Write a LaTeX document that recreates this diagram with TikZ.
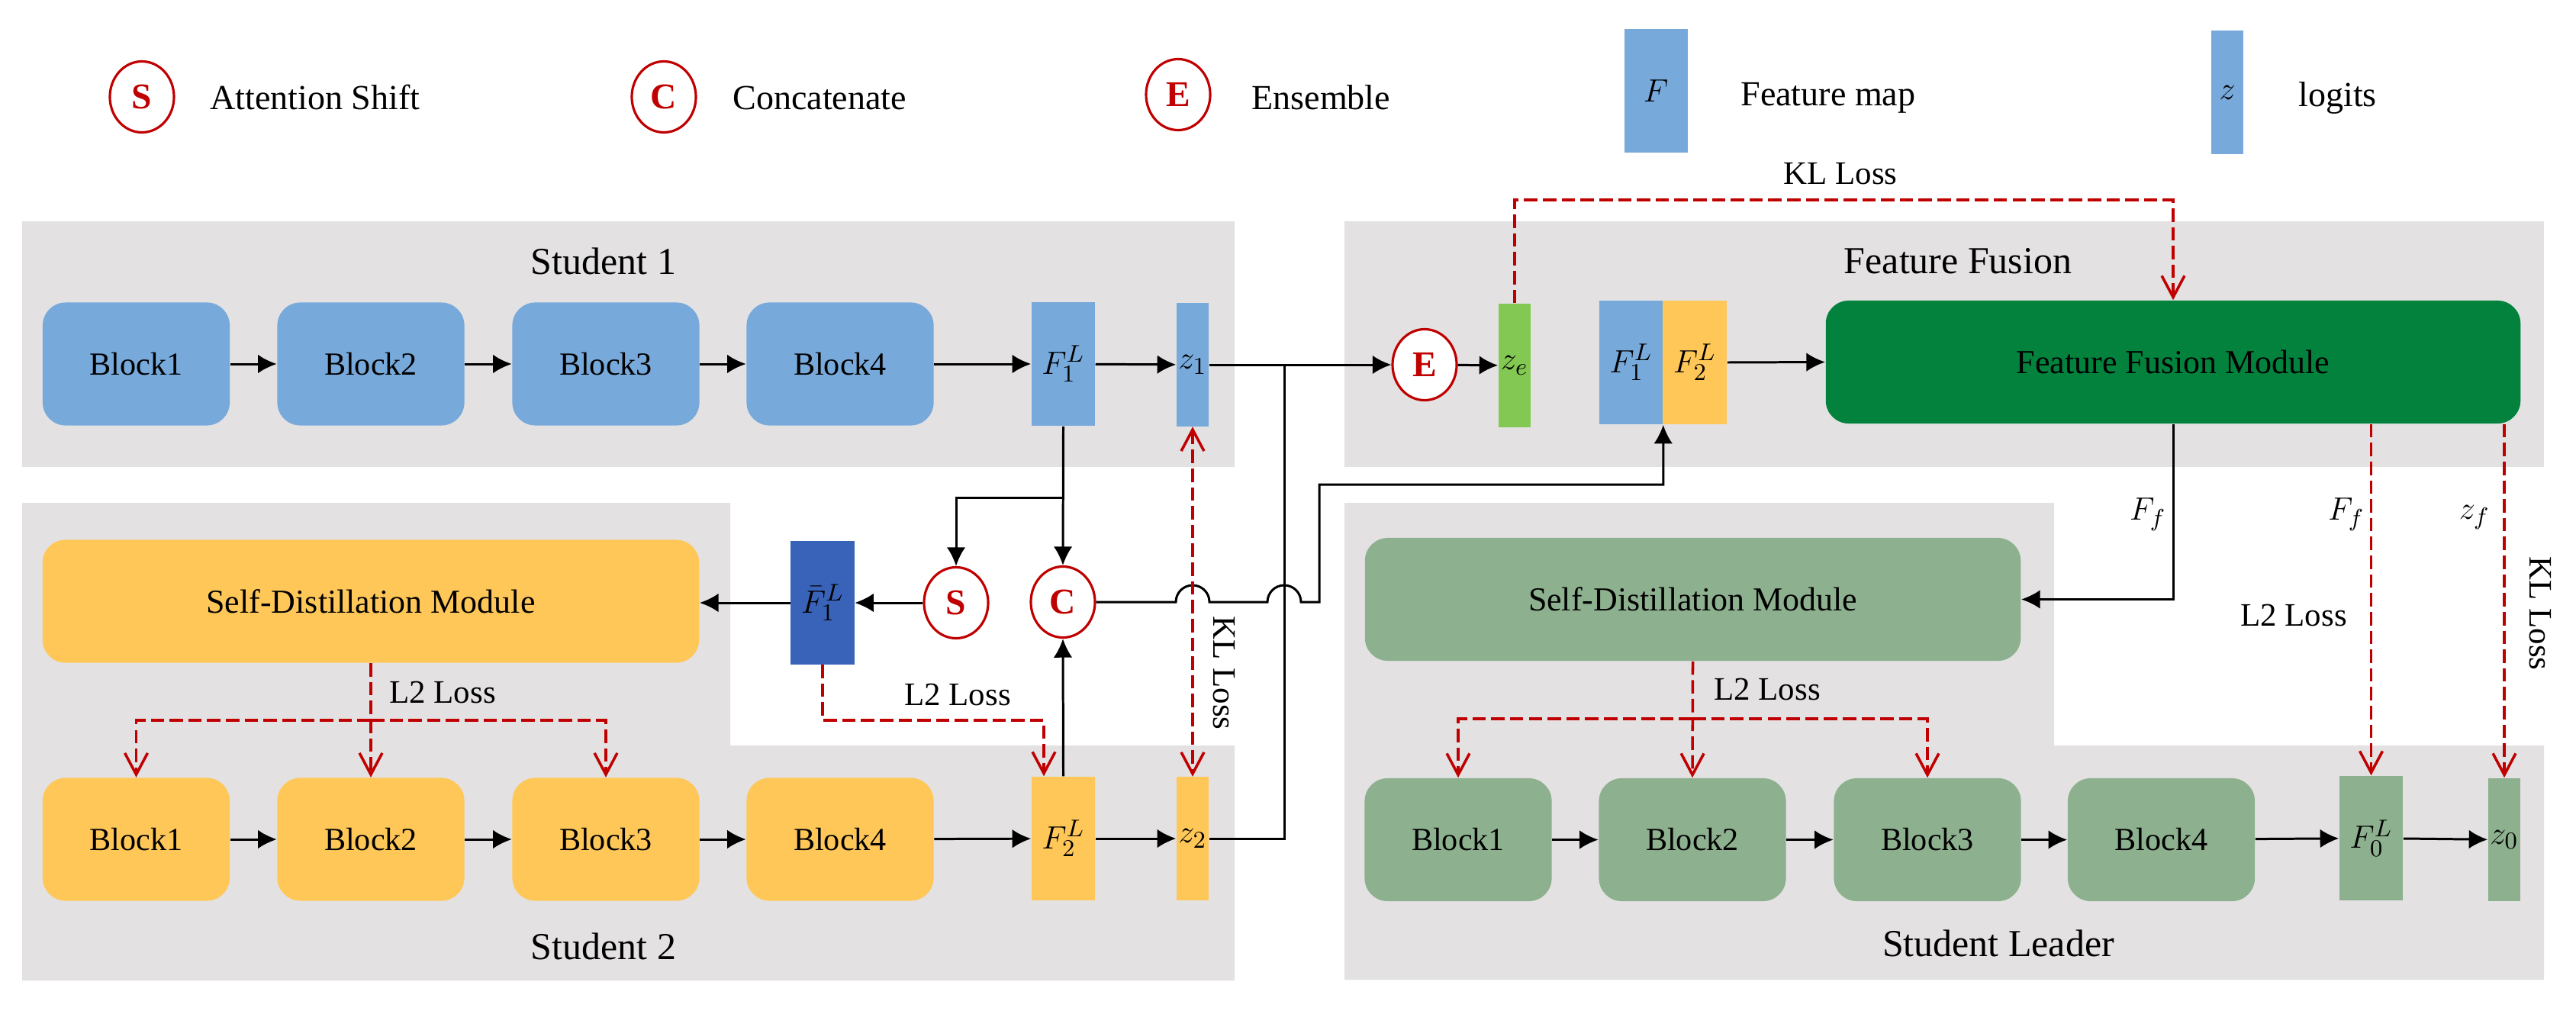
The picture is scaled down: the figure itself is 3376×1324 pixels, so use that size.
\documentclass[tikz,border=0pt]{standalone}
\usepackage{fontspec}
\setmainfont{Liberation Serif}
\usetikzlibrary{arrows.meta,shapes.geometric,calc}
\definecolor{panelgray}{RGB}{227,225,226}
\definecolor{blueA}{RGB}{119,169,219}
\definecolor{yelA}{RGB}{255,199,88}
\definecolor{grnA}{RGB}{141,176,143}
\definecolor{ffmgreen}{RGB}{2,130,61}
\definecolor{zegreen}{RGB}{131,200,83}
\definecolor{dblue}{RGB}{57,99,184}
\definecolor{redc}{RGB}{192,0,0}
\newcommand\fsz[1]{\fontsize{#1}{#1}\selectfont}
\begin{document}
\begin{tikzpicture}[x=0.01cm,y=-0.01cm,
  blk/.style={rounded corners=0.3cm,minimum width=2.45cm,minimum height=1.61cm,inner sep=0pt,font=\fsz{12}},
  modbox/.style={rounded corners=0.3cm,minimum height=1.61cm,inner sep=0pt,font=\fsz{12.5}},
  fmap/.style={minimum width=0.83cm,minimum height=1.62cm,inner sep=0pt,font=\fsz{12.5}},
  lgt/.style={minimum width=0.42cm,minimum height=1.61cm,inner sep=0pt,font=\fsz{12.5}},
  opc/.style={ellipse,draw=redc,line width=0.9pt,fill=white,minimum width=0.84cm,minimum height=0.93cm,inner sep=0pt,text=redc,font=\fsz{13.5}\bfseries},
  ttl/.style={font=\fsz{14.2}},
  txt/.style={font=\fsz{12.2}},
  lgtxt/.style={font=\fsz{13.1},anchor=west},
  ln/.style={line width=0.85pt},
  arr/.style={line width=0.85pt,-{Latex[length=7pt,width=7pt]}},
  dsh/.style={draw=redc,line width=1pt,dash pattern=on 5pt off 2pt},
  dar/.style={dsh,-{Straight Barb[length=8pt,width=8.5pt]}},
  dar2/.style={dsh,{Straight Barb[length=8pt,width=8.5pt]}-{Straight Barb[length=8pt,width=8.5pt]}}
]
\fill[white] (0,0) rectangle (3376,1324);
\useasboundingbox (0,0) rectangle (3376,1324);

% ---------- legend ----------
\node[opc] (lgS) at (186,127) {S};
\node[lgtxt] (lgSt) at (263,128) {Attention Shift};
\node[opc] (lgC) at (870,127) {C};
\node[lgtxt] (lgCt) at (948,128) {Concatenate};
\node[opc] (lgE) at (1544,124) {E};
\node[lgtxt] (lgEt) at (1628,128) {Ensemble};
\node[fmap,fill=blueA] (lgF) at (2170,119) {$F$};
\node[lgtxt] (lgFt) at (2269,128) {Feature map};
\node[lgt,fill=blueA] (lgZ) at (2919,121) {$z$};
\node[lgtxt] (lgZt) at (3000,128) {logits};

% ---------- panels ----------
\fill[panelgray] (29,290) rectangle (1618,612);
\fill[panelgray] (1762,290) rectangle (3334,612);
\fill[panelgray] (29,659) -- (957,659) -- (957,977) -- (1618,977) -- (1618,1285) -- (29,1285) -- cycle;
\fill[panelgray] (1762,659) -- (2692,659) -- (2692,977) -- (3334,977) -- (3334,1284) -- (1762,1284) -- cycle;
\node[ttl] (t1) at (791,342) {Student 1};
\node[ttl] (tF) at (2566,342) {Feature Fusion};
\node[ttl] (t2) at (791,1240) {Student 2};
\node[ttl] (tL) at (2619,1236) {Student Leader};

% ---------- student 1 ----------
\node[blk,fill=blueA] (s1b1) at (178.5,477) {Block1};
\node[blk,fill=blueA] (s1b2) at (486,477) {Block2};
\node[blk,fill=blueA] (s1b3) at (794,477) {Block3};
\node[blk,fill=blueA] (s1b4) at (1101,477) {Block4};
\node[fmap,fill=blueA] (s1F) at (1393.5,477) {$F_1^L$};
\node[lgt,fill=blueA] (s1z) at (1563,478) {$z_1$};
\draw[arr] (s1b1) -- (s1b2);
\draw[arr] (s1b2) -- (s1b3);
\draw[arr] (s1b3) -- (s1b4);
\draw[arr] (s1b4) -- (s1F);
\draw[arr] (s1F) -- (s1z);

% ---------- student 2 ----------
\node[blk,fill=yelA] (s2b1) at (178.5,1100) {Block1};
\node[blk,fill=yelA] (s2b2) at (486,1100) {Block2};
\node[blk,fill=yelA] (s2b3) at (794,1100) {Block3};
\node[blk,fill=yelA] (s2b4) at (1101,1100) {Block4};
\node[fmap,fill=yelA] (s2F) at (1393.5,1099) {$F_2^L$};
\node[lgt,fill=yelA] (s2z) at (1563,1099) {$z_2$};
\draw[arr] (s2b1) -- (s2b2);
\draw[arr] (s2b2) -- (s2b3);
\draw[arr] (s2b3) -- (s2b4);
\draw[arr] (s2b4) -- (s2F);
\draw[arr] (s2F) -- (s2z);
\node[modbox,fill=yelA,minimum width=8.6cm] (SDM2) at (486,788) {Self-Distillation Module};
\node[fmap,fill=dblue,minimum height=1.61cm] (Fbar) at (1078,790) {$\bar{F}_1^L$};
\node[opc] (S) at (1253,790) {S};
\node[opc] (C) at (1393,789) {C};

% ---------- feature fusion ----------
\node[opc] (E) at (1867,478) {E};
\node[lgt,fill=zegreen,minimum height=1.62cm] (ze) at (1985,479) {$z_e$};
\node[fmap,fill=blueA] (cF1) at (2137.5,475) {$F_1^L$};
\node[fmap,fill=yelA,minimum width=0.84cm] (cF2) at (2221,475) {$F_2^L$};
\node[modbox,fill=ffmgreen,minimum width=9.1cm] (FFM) at (2848,474.5) {Feature Fusion Module};

% ---------- student leader ----------
\node[modbox,fill=grnA,minimum width=8.59cm] (SDML) at (2218.5,785.5) {Self-Distillation Module};
\node[blk,fill=grnA] (lb1) at (1911,1100.5) {Block1};
\node[blk,fill=grnA] (lb2) at (2218,1100.5) {Block2};
\node[blk,fill=grnA] (lb3) at (2526,1100.5) {Block3};
\node[blk,fill=grnA] (lb4) at (2832.5,1100.5) {Block4};
\node[fmap,fill=grnA,minimum height=1.63cm] (lF) at (3107.5,1098.5) {$F_0^L$};
\node[lgt,fill=grnA] (lz) at (3282,1100.5) {$z_0$};
\draw[arr] (lb1) -- (lb2);
\draw[arr] (lb2) -- (lb3);
\draw[arr] (lb3) -- (lb4);
\draw[arr] (lb4) -- (lF);
\draw[arr] (lF) -- (lz);

% ---------- connections: students to fusion ----------
\coordinate (jn) at (1683,478);
\coordinate (up) at (1729,635);
\coordinate (br) at (1393.5,652);
\draw[arr] (s1z.east) -- (E.west);
\draw[ln] (s2z.east) -| (jn);
\draw[arr] (E) -- (ze);
\draw[arr] (cF2.east) -- (FFM.west);

\draw[arr] (s1F.south) -- (C.north);
\draw[arr] (br) -| (S.north);
\draw[arr] (S.west) -- (Fbar.east);
\draw[arr] (Fbar.west) -- (Fbar.west -| SDM2.east);
\draw[arr] (s2F.north) -- (C.south);
\draw[arr] (C.east) -- ($(C.east -| s1z.south)+(-22,0)$) arc[start angle=180,end angle=360,radius=22]
  -- ($(C.east -| jn)+(-22,0)$) arc[start angle=180,end angle=360,radius=22]
  -- (C.east -| up) -- (up) -| (cF1.south east);

% KL between students
\draw[dar2] (s1z.south) -- (s2z.north);
\node[txt,rotate=-90] (kl2) at (1604,882) {KL Loss};

% L2 inside student 2
\coordinate (m2) at (486,944);
\draw[dar] (SDM2.south) -- (s2b2.north);
\draw[dar] (s2b2.north |- m2) -- (s2b1.north |- m2) -- (s2b1.north);
\draw[dar] (s2b2.north |- m2) -- (s2b3.north |- m2) -- (s2b3.north);
\node[txt] (l2a) at (580,907) {L2 Loss};

\coordinate (m3) at (1368,944);
\draw[dar] (Fbar.south) |- (m3) -- (m3 |- s2F.north);
\node[txt] (l2b) at (1255,910) {L2 Loss};

% KL top
\coordinate (klt) at (1985,262);
\draw[dar] (ze.north) -- (klt) -| (FFM.north);
\node[txt] (kl1) at (2412,228) {KL Loss};

% fusion to leader
\draw[arr] (FFM.south) |- (SDML.east);
\node[txt] (ff1) at (2815,674) {$F_f$};
\draw[dar] (FFM.south -| lF.north) -- (lF.north);
\draw[dar] (FFM.south -| lz.north) -- (lz.north);
\node[txt] (ff2) at (3075,674) {$F_f$};
\node[txt] (zf) at (3243,678) {$z_f$};
\node[txt] (l2c) at (3006,806) {L2 Loss};
\node[txt,rotate=-90] (kl3) at (3329,804) {KL Loss};

% L2 inside leader
\coordinate (m4) at (2218,942);
\draw[dar] (SDML.south) -- (lb2.north);
\draw[dar] (lb2.north |- m4) -- (lb1.north |- m4) -- (lb1.north);
\draw[dar] (lb2.north |- m4) -- (lb3.north |- m4) -- (lb3.north);
\node[txt] (l2d) at (2316,903) {L2 Loss};
\end{tikzpicture}
\end{document}
